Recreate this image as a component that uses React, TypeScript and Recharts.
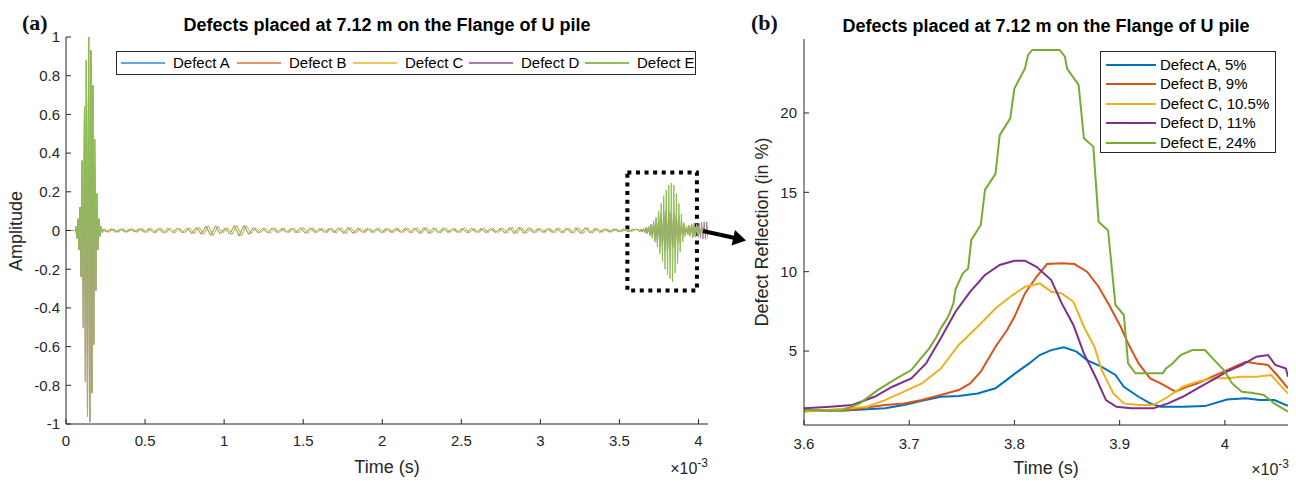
import { Legend, Line, LineChart, ReferenceArea, XAxis, YAxis } from 'recharts';

const FONT = '"Liberation Sans", Arial, Helvetica, sans-serif';
const AXIS = '#262626';

const defectNames = ['Defect A', 'Defect B', 'Defect C', 'Defect D', 'Defect E'];
const defectLabels = ['Defect A, 5%', 'Defect B, 9%', 'Defect C, 10.5%', 'Defect D, 11%', 'Defect E, 24%'];
const seriesColors = ['#0072BD', '#D95319', '#EDB120', '#7E2F8E', '#77AC30'];
// panel (a) draws the same colours, washed out
const waveColors = ['#62A8D9', '#E8926C', '#F3C75E', '#A97DB3', '#8FBE55'];

// tick labels (time in units of 1e-3 s)
const ampTicks = [-1, -0.8, -0.6, -0.4, -0.2, 0, 0.2, 0.4, 0.6, 0.8, 1];
const timeTicksA = [0, 0.5, 1, 1.5, 2, 2.5, 3, 3.5, 4];
const timeTicksB = [3.6, 3.7, 3.8, 3.9, 4];
const reflTicks = [5, 10, 15, 20];

// panel (a): raw signal, read as peak values
const leadT = [0, 0.06];
const leadA = [0, 0];

const pulseT = [0.062, 0.069, 0.076, 0.082, 0.089, 0.096, 0.103, 0.11, 0.117, 0.123, 0.129, 0.136, 0.143, 0.15,
  0.157, 0.163, 0.169, 0.175, 0.181, 0.188, 0.194, 0.201, 0.208, 0.215, 0.222, 0.23, 0.236];
const pulseA = [0.02, -0.04, 0.06, -0.1, 0.12, -0.24, 0.36, -0.5, 0.64, -0.78, 0.88, -0.96, 1.0, -0.99,
  0.93, -0.84, 0.75, -0.59, 0.47, -0.31, 0.19, -0.1, 0.06, -0.03, 0.02, -0.01, 0.005];

// ripple between pulse and echo; A-C peak every 0.03e-3 s from 0.24e-3 s
const rippleAC = [
  0.008, -0.008, 0.007, -0.008, 0.008, -0.007, 0.008, -0.008, 0.009, -0.01,
  0.01, -0.011, 0.012, -0.012, 0.011, -0.012, 0.012, -0.013, 0.014, -0.016,
  0.018, -0.02, 0.024, -0.026, 0.022, -0.012, 0.014, -0.022, 0.028, -0.028,
  0.024, -0.016, 0.014, -0.012, 0.013, -0.014, 0.012, -0.01, 0.01, -0.011,
  0.012, -0.013, 0.015, -0.014, 0.012, -0.01, 0.01, -0.01, 0.011, -0.012,
  0.014, -0.016, 0.016, -0.013, 0.011, -0.01, 0.01, -0.01, 0.011, -0.01,
  0.01, -0.011, 0.01, -0.011, 0.012, -0.013, 0.014, -0.015, 0.015, -0.014,
  0.013, -0.012, 0.011, -0.01, 0.01, -0.011, 0.012, -0.011, 0.01, -0.01,
  0.011, -0.01, 0.01, -0.011, 0.012, -0.014, 0.016, -0.017, 0.016, -0.014,
  0.012, -0.011, 0.01, -0.01, 0.01, -0.011, 0.011, -0.012, 0.013, -0.014,
  0.015, -0.015, 0.014, -0.012, 0.01, -0.009, 0.008, -0.008, 0.008, -0.007,
  0.007, -0.006, 0.006,
];
// D-E peak every 0.03e-3 s from 0.255e-3 s
const rippleDE = [
  -0.007, 0.008, -0.008, 0.007, -0.008, 0.008, -0.007, 0.009, -0.009, 0.01,
  -0.011, 0.011, -0.012, 0.012, -0.011, 0.012, -0.013, 0.013, -0.015, 0.017,
  -0.019, 0.022, -0.025, 0.024, -0.018, 0.012, -0.018, 0.025, -0.029, 0.026,
  -0.02, 0.015, -0.013, 0.012, -0.013, 0.013, -0.011, 0.01, -0.01, 0.011,
  -0.012, 0.014, -0.015, 0.013, -0.011, 0.01, -0.01, 0.01, -0.011, 0.013,
  -0.015, 0.016, -0.015, 0.012, -0.01, 0.01, -0.01, 0.01, -0.011, 0.01,
  -0.01, 0.011, -0.01, 0.011, -0.012, 0.013, -0.015, 0.015, -0.015, 0.014,
  -0.012, 0.011, -0.01, 0.01, -0.01, 0.011, -0.012, 0.011, -0.01, 0.01,
  -0.011, 0.01, -0.01, 0.011, -0.013, 0.015, -0.017, 0.017, -0.015, 0.013,
  -0.011, 0.01, -0.01, 0.01, -0.01, 0.011, -0.012, 0.012, -0.013, 0.014,
  -0.015, 0.015, -0.013, 0.011, -0.01, 0.009, -0.008, 0.008, -0.007, 0.007,
  -0.006, 0.006,
];

// defect echo, one peak every 0.008e-3 s from 3.62e-3 s
const echoAC = [
  0.003, -0.004, 0.005, -0.006, 0.007, -0.008, 0.01, -0.012, 0.014, -0.017,
  0.02, -0.024, 0.028, -0.033, 0.038, -0.044, 0.05, -0.056, 0.062, -0.068,
  0.073, -0.078, 0.082, -0.085, 0.088, -0.09, 0.09, -0.09, 0.088, -0.085,
  0.08, -0.074, 0.066, -0.057, 0.047, -0.038, 0.03, -0.024, 0.02, -0.022,
  0.025, -0.028, 0.03, -0.032, 0.03, -0.028, 0.026, -0.024, 0.022, -0.02,
  0.018, -0.018, 0.016, -0.015, 0.014, -0.012,
];
const echoD = [
  0.004, -0.005, 0.006, -0.008, 0.01, -0.012, 0.015, -0.018, 0.022, -0.027,
  0.032, -0.038, 0.045, -0.052, 0.06, -0.068, 0.076, -0.084, 0.09, -0.096,
  0.1, -0.104, 0.106, -0.105, 0.102, -0.098, 0.092, -0.085, 0.076, -0.066,
  0.055, -0.044, 0.034, -0.025, 0.018, -0.014, 0.012, -0.012, 0.014, -0.016,
  0.018, -0.02, 0.022, -0.025, 0.028, -0.03, 0.033, -0.035, 0.038, -0.04,
  0.042, -0.044, 0.045, -0.045, 0.044, -0.042,
];
const echoE = [
  0.005, -0.006, 0.007, -0.008, 0.01, -0.012, 0.015, -0.018, 0.022, -0.027,
  0.033, -0.04, 0.05, -0.06, 0.07, -0.085, 0.1, -0.12, 0.14, -0.16,
  0.18, -0.2, 0.21, -0.23, 0.235, -0.25, 0.245, -0.265, 0.235, -0.22,
  0.19, -0.17, 0.14, -0.11, 0.085, -0.06, 0.04, -0.03, 0.02, -0.02,
  0.025, -0.03, 0.035, -0.04, 0.04, -0.035, 0.03, -0.025, 0.02, -0.018,
  0.015, -0.012, 0.01, -0.01, 0.008, -0.005,
];

// panel (b): defect reflection in %
const tA = [3.6, 3.635, 3.677, 3.695, 3.712, 3.73, 3.747, 3.765, 3.782, 3.793, 3.803, 3.814, 3.824, 3.835, 3.847,
  3.859, 3.869, 3.883, 3.896, 3.904, 3.918, 3.929, 3.939, 3.96, 3.981, 4.002, 4.02, 4.033, 4.047, 4.06];
const vA = [1.28, 1.24, 1.39, 1.6, 1.87, 2.12, 2.16, 2.33, 2.65, 3.2, 3.7, 4.22, 4.75, 5.06, 5.23,
  4.96, 4.43, 4.0, 3.49, 2.75, 2.12, 1.7, 1.49, 1.49, 1.53, 1.95, 2.02, 1.91, 1.91, 1.55];

const tB = [3.6, 3.642, 3.677, 3.695, 3.712, 3.73, 3.747, 3.758, 3.768, 3.782, 3.793, 3.8, 3.81, 3.821, 3.831, 3.845,
  3.857, 3.869, 3.88, 3.89, 3.901, 3.908, 3.918, 3.929, 3.939, 3.953, 3.964, 3.974, 3.988, 4.002, 4.013, 4.02,
  4.03, 4.041, 4.051, 4.06];
const vB = [1.24, 1.28, 1.6, 1.7, 1.91, 2.23, 2.54, 2.96, 3.7, 5.27, 6.32, 7.16, 8.63, 9.68, 10.48, 10.53,
  10.48, 10.0, 9.05, 7.9, 6.53, 5.48, 4.22, 3.28, 2.96, 2.44, 2.75, 2.96, 3.38, 3.8, 4.12, 4.33,
  4.22, 4.12, 3.38, 2.65];

const tC = [3.6, 3.66, 3.677, 3.695, 3.712, 3.73, 3.747, 3.765, 3.782, 3.796, 3.81, 3.824, 3.835, 3.845, 3.856,
  3.866, 3.876, 3.883, 3.894, 3.904, 3.918, 3.932, 3.946, 3.96, 3.974, 3.988, 4.002, 4.016, 4.03, 4.044,
  4.051, 4.06];
const vC = [1.18, 1.49, 1.91, 2.44, 2.96, 3.9, 5.38, 6.53, 7.68, 8.42, 9.05, 9.26, 8.74, 8.63, 8.11,
  6.53, 5.27, 3.8, 2.33, 1.7, 1.6, 1.6, 2.12, 2.75, 3.07, 3.28, 3.28, 3.38, 3.38, 3.49,
  2.96, 2.33];

const tD = [3.6, 3.625, 3.646, 3.667, 3.684, 3.702, 3.716, 3.73, 3.744, 3.758, 3.772, 3.786, 3.8, 3.81, 3.821,
  3.835, 3.845, 3.856, 3.866, 3.877, 3.887, 3.897, 3.911, 3.932, 3.946, 3.96, 3.974, 3.988, 4.002, 4.016,
  4.03, 4.041, 4.048, 4.058, 4.06];
const vD = [1.39, 1.49, 1.6, 2.12, 2.75, 3.28, 4.22, 5.8, 7.48, 8.74, 9.79, 10.42, 10.69, 10.69, 10.31,
  9.47, 8.0, 6.64, 4.85, 3.38, 1.91, 1.49, 1.39, 1.39, 1.7, 2.12, 2.65, 3.17, 3.7, 4.12,
  4.64, 4.75, 4.12, 3.9, 3.38];

const tE = [3.6, 3.635, 3.653, 3.67, 3.688, 3.702, 3.711, 3.719, 3.726, 3.73, 3.737, 3.742, 3.744, 3.751, 3.756,
  3.759, 3.768, 3.772, 3.782, 3.786, 3.796, 3.8, 3.81, 3.813, 3.817, 3.843, 3.848, 3.85, 3.861, 3.866,
  3.875, 3.88, 3.889, 3.896, 3.904, 3.908, 3.915, 3.941, 3.944, 3.95, 3.958, 3.969, 3.981, 3.99, 3.999,
  4.007, 4.016, 4.025, 4.037, 4.047, 4.06];
const vE = [1.28, 1.24, 1.7, 2.54, 3.28, 3.8, 4.54, 5.17, 5.9, 6.43, 7.16, 8.0, 8.89, 9.9, 10.2,
  12.0, 12.94, 15.15, 16.16, 18.6, 19.66, 21.55, 22.8, 23.66, 23.97, 23.97, 23.55, 22.8, 21.77, 18.4,
  17.88, 13.15, 12.6, 7.9, 7.27, 4.22, 3.6, 3.6, 3.9, 4.2, 4.75, 5.06, 5.06, 4.43, 3.8,
  2.96, 2.44, 2.37, 2.23, 1.7, 1.18];

const toPoints = (t: number[], v: number[]) => t.map((x, i) => ({ t: x, v: v[i] }));

const rippleTimes = (start: number, vals: number[]) => vals.map((_, i) => +(start + i * 0.03).toFixed(3));
const echoT = echoE.map((_, i) => +(3.62 + i * 0.008).toFixed(3));

const signal = (rippleStart: number, ripple: number[], echo: number[]) => [
  ...toPoints(leadT, leadA),
  ...toPoints(pulseT, pulseA),
  ...toPoints(rippleTimes(rippleStart, ripple), ripple),
  ...toPoints(echoT, echo),
];

const waveData = [
  signal(0.24, rippleAC, echoAC),
  signal(0.24, rippleAC, echoAC),
  signal(0.24, rippleAC, echoAC),
  signal(0.255, rippleDE, echoD),
  signal(0.255, rippleDE, echoE),
];
const reflData = [toPoints(tA, vA), toPoints(tB, vB), toPoints(tC, vC), toPoints(tD, vD), toPoints(tE, vE)];

const tickStyle = { fill: AXIS, fontSize: 15 };

function WaveLegend({ payload }: any) {
  return (
    <div
      style={{
        display: 'flex',
        alignItems: 'center',
        width: 580,
        height: 24,
        boxSizing: 'border-box',
        border: `1px solid ${AXIS}`,
        background: '#fff',
        fontFamily: FONT,
      }}
    >
      {(payload ?? []).map((p: any, i: number) => (
        <div key={p.value} style={{ flex: '0 0 116px', display: 'flex', alignItems: 'center' }}>
          <span
            style={{
              display: 'block',
              marginLeft: 4,
              width: 44,
              height: 2,
              background: waveColors[defectNames.indexOf(p.value)] ?? waveColors[i],
            }}
          />
          <span style={{ marginLeft: 8, fontSize: 15, color: '#000', lineHeight: '16px' }}>{p.value}</span>
        </div>
      ))}
    </div>
  );
}

function ReflLegend({ payload }: any) {
  return (
    <div
      style={{
        width: 176,
        height: 102,
        boxSizing: 'border-box',
        border: `1px solid ${AXIS}`,
        background: '#fff',
        paddingTop: 3,
        fontFamily: FONT,
      }}
    >
      {(payload ?? []).map((p: any, i: number) => (
        <div key={p.value} style={{ height: 19.5, display: 'flex', alignItems: 'center' }}>
          <span
            style={{
              display: 'block',
              marginLeft: 5,
              width: 50,
              height: 2,
              background: seriesColors[defectLabels.indexOf(p.value)] ?? seriesColors[i],
            }}
          />
          <span style={{ marginLeft: 4, fontSize: 15, color: '#000', lineHeight: '16px' }}>{p.value}</span>
        </div>
      ))}
    </div>
  );
}

export default function App() {
  return (
    <div
      style={{
        position: 'absolute',
        left: 0,
        top: 0,
        width: 1296,
        height: 481,
        background: '#fff',
        fontFamily: FONT,
        overflow: 'hidden',
      }}
    >
      <div style={{ position: 'absolute', left: 0, top: 0 }}>
        <LineChart width={720} height={481} margin={{ top: 37, right: 12, bottom: 27, left: 0 }}>
          <XAxis
            dataKey="t"
            type="number"
            domain={[0, 4.06]}
            ticks={timeTicksA}
            interval={0}
            allowDataOverflow
            height={30}
            tickSize={-5}
            tickMargin={16}
            stroke={AXIS}
            tick={tickStyle}
          />
          <XAxis
            xAxisId="top"
            orientation="top"
            type="number"
            domain={[0, 4.06]}
            ticks={timeTicksA}
            interval={0}
            allowDataOverflow
            height={0}
            tickSize={-5}
            tick={false}
            stroke={AXIS}
          />
          <YAxis
            type="number"
            domain={[-1, 1]}
            ticks={ampTicks}
            interval={0}
            allowDataOverflow
            width={66}
            tickSize={-5}
            tickMargin={11}
            stroke={AXIS}
            tick={tickStyle}
          />
          <YAxis
            yAxisId="right"
            orientation="right"
            type="number"
            domain={[-1, 1]}
            ticks={ampTicks}
            interval={0}
            width={0}
            tickSize={-5}
            tick={false}
            stroke={AXIS}
          />
          {waveData.map((d, i) => (
            <Line
              key={defectNames[i]}
              data={d}
              dataKey="v"
              name={defectNames[i]}
              type="linear"
              stroke={waveColors[i]}
              strokeWidth={1}
              dot={false}
              activeDot={false}
              isAnimationActive={false}
            />
          ))}
          <ReferenceArea
            x1={3.55}
            x2={3.99}
            y1={-0.31}
            y2={0.3}
            fill="none"
            stroke="#000"
            strokeWidth={4}
            strokeDasharray="4 4.6"
            ifOverflow="visible"
          />
          <Legend
            layout="vertical"
            align="center"
            verticalAlign="middle"
            content={<WaveLegend />}
            wrapperStyle={{ left: 116, top: 51, width: 580, height: 24 }}
          />
        </LineChart>
      </div>

      <div style={{ position: 'absolute', left: 720, top: 0 }}>
        <LineChart width={576} height={481} margin={{ top: 39, right: 8, bottom: 26, left: 0 }}>
          <XAxis
            dataKey="t"
            type="number"
            domain={[3.6, 4.06]}
            ticks={timeTicksB}
            interval={0}
            allowDataOverflow
            height={30}
            tickSize={-5}
            tickMargin={18}
            stroke={AXIS}
            tick={tickStyle}
          />
          <XAxis
            xAxisId="top"
            orientation="top"
            type="number"
            domain={[3.6, 4.06]}
            ticks={timeTicksB}
            interval={0}
            allowDataOverflow
            height={0}
            tickSize={-5}
            tick={false}
            stroke={AXIS}
          />
          <YAxis
            type="number"
            domain={[0.34, 24.66]}
            ticks={reflTicks}
            interval={0}
            allowDataOverflow
            width={84}
            tickSize={-5}
            tickMargin={12}
            stroke={AXIS}
            tick={tickStyle}
          />
          <YAxis
            yAxisId="right"
            orientation="right"
            type="number"
            domain={[0.34, 24.66]}
            ticks={reflTicks}
            interval={0}
            width={0}
            tickSize={-5}
            tick={false}
            stroke={AXIS}
          />
          {reflData.map((d, i) => (
            <Line
              key={defectLabels[i]}
              data={d}
              dataKey="v"
              name={defectLabels[i]}
              type="linear"
              stroke={seriesColors[i]}
              strokeWidth={2}
              dot={false}
              activeDot={false}
              isAnimationActive={false}
            />
          ))}
          <Legend
            layout="vertical"
            align="center"
            verticalAlign="middle"
            content={<ReflLegend />}
            wrapperStyle={{ left: 380, top: 51, width: 176, height: 102 }}
          />
        </LineChart>
      </div>

      <svg
        width={1296}
        height={481}
        style={{ position: 'absolute', left: 0, top: 0, pointerEvents: 'none' }}
      >
        <text x={22} y={30} fontFamily='"Liberation Serif", "DejaVu Serif", serif' fontWeight="bold" fontSize={22} fill="#111">
          (a)
        </text>
        <text x={751} y={30} fontFamily='"Liberation Serif", "DejaVu Serif", serif' fontWeight="bold" fontSize={22} fill="#111">
          (b)
        </text>
        <text x={387} y={31} textAnchor="middle" fontWeight="bold" fontSize={18} fill="#000">
          Defects placed at 7.12 m on the Flange of U pile
        </text>
        <text x={1046} y={32} textAnchor="middle" fontWeight="bold" fontSize={18} fill="#000">
          Defects placed at 7.12 m on the Flange of U pile
        </text>
        <text x={387} y={473} textAnchor="middle" fontSize={18} fill={AXIS}>
          Time (s)
        </text>
        <text x={1046} y={474} textAnchor="middle" fontSize={18} fill={AXIS}>
          Time (s)
        </text>
        <text x={708} y={474} textAnchor="end" fontSize={16} fill={AXIS}>
          ×10<tspan dy={-7} fontSize={12}>-3</tspan>
        </text>
        <text x={1289} y={475} textAnchor="end" fontSize={16} fill={AXIS}>
          ×10<tspan dy={-7} fontSize={12}>-3</tspan>
        </text>
        <text
          x={0}
          y={0}
          transform="translate(22 231) rotate(-90)"
          textAnchor="middle"
          fontSize={18}
          fill={AXIS}
        >
          Amplitude
        </text>
        <text
          x={0}
          y={0}
          transform="translate(768 232) rotate(-90)"
          textAnchor="middle"
          fontSize={18}
          fill={AXIS}
        >
          Defect Reflection (in %)
        </text>
        <line x1={703} y1={231} x2={735} y2={238} stroke="#000" strokeWidth={4} />
        <polygon points="746,240.5 731.6,245.5 735,229.9" fill="#000" />
      </svg>
    </div>
  );
}
